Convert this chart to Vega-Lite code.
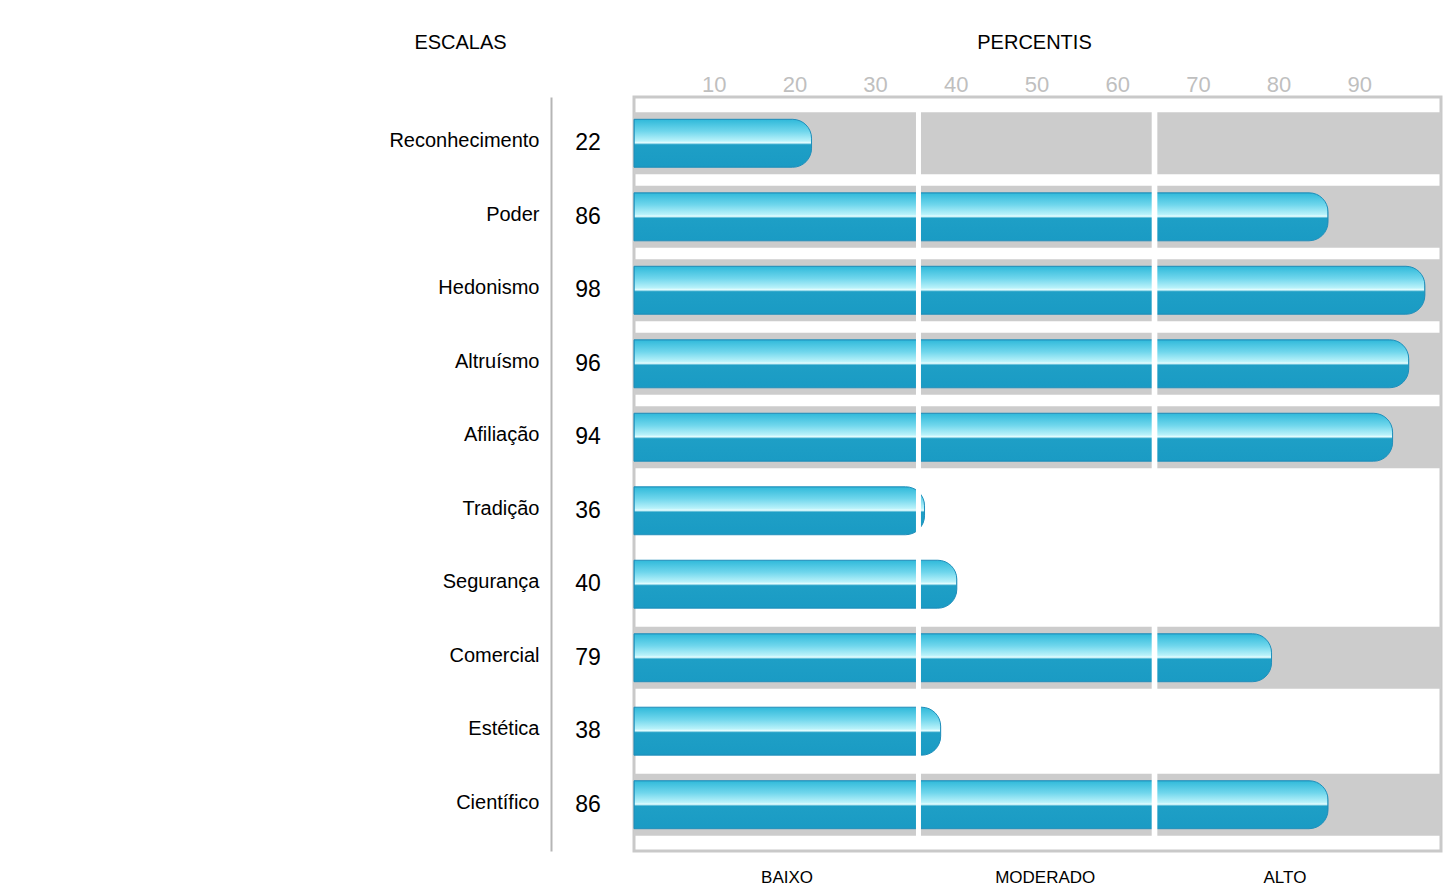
{
  "$schema": "https://vega.github.io/schema/vega-lite/v6.json",
  "width": 807,
  "height": 754,
  "autosize": {"type": "none"},
  "padding": {"left": 634, "top": 97, "right": 6, "bottom": 45},
  "background": "white",
  "config": {
    "view": {"stroke": "#c9c9c9", "strokeWidth": 3},
    "font": "Liberation Sans",
    "axis": {"grid": false}
  },
  "data": {
    "values": [
      {"escala": "Reconhecimento", "percentil": 22},
      {"escala": "Poder", "percentil": 86},
      {"escala": "Hedonismo", "percentil": 98},
      {"escala": "Altruísmo", "percentil": 96},
      {"escala": "Afiliação", "percentil": 94},
      {"escala": "Tradição", "percentil": 36},
      {"escala": "Segurança", "percentil": 40},
      {"escala": "Comercial", "percentil": 79},
      {"escala": "Estética", "percentil": 38},
      {"escala": "Científico", "percentil": 86}
    ]
  },
  "layer": [
    {
      "encoding": {
        "y": {
          "field": "escala",
          "type": "nominal",
          "sort": ["Reconhecimento", "Poder", "Hedonismo", "Altruísmo", "Afiliação", "Tradição", "Segurança", "Comercial", "Estética", "Científico"],
          "scale": {"paddingInner": 0, "paddingOuter": 0.13},
          "axis": {
            "orient": "left",
            "offset": 83,
            "domain": true,
            "domainColor": "#b5b5b5",
            "domainWidth": 2,
            "ticks": false,
            "tickSize": 0,
            "labelPadding": 12,
            "labelOffset": -2,
            "labelFontSize": 20,
            "labelColor": "#000000",
            "labelFont": "Liberation Sans",
            "title": "ESCALAS",
            "titleAngle": 0,
            "titleX": -91,
            "titleY": -55,
            "titleAlign": "center",
            "titleBaseline": "middle",
            "titleFontSize": 20,
            "titleFontWeight": "normal",
            "titleColor": "#000000",
            "titleFont": "Liberation Sans"
          }
        }
      },
      "layer": [
        {
          "transform": [{"filter": "datum.percentil <= 35 || datum.percentil >= 65"}],
          "mark": {"type": "bar", "color": "#cccccc", "height": {"band": 0.844}},
          "encoding": {
            "x": {
              "datum": 0,
              "type": "quantitative",
              "scale": {"domain": [0, 100], "nice": false},
              "axis": {
                "orient": "top",
                "values": [10, 20, 30, 40, 50, 60, 70, 80, 90],
                "domain": false,
                "ticks": false,
                "tickSize": 0,
                "labelFontSize": 22,
                "labelColor": "#bfbfbf",
                "labelBaseline": "middle",
                "labelPadding": 13,
                "labelOffset": -1,
                "labelFont": "Liberation Sans",
                "title": "PERCENTIS",
                "titleFontSize": 20,
                "titleFontWeight": "normal",
                "titleColor": "#000000",
                "titleFont": "Liberation Sans",
                "titleX": 400,
                "titleY": -55,
                "titleAlign": "center",
                "titleBaseline": "middle"
              }
            },
            "x2": {"datum": 100}
          }
        },
        {
          "mark": {
            "type": "bar",
            "height": {"band": 0.653},
            "cornerRadiusEnd": 19,
            "stroke": "#1f8fbb",
            "strokeWidth": 1,
            "color": {
              "gradient": "linear",
              "x1": 0, "y1": 0, "x2": 0, "y2": 1,
              "stops": [
                {"offset": 0, "color": "#2fb9da"},
                {"offset": 0.25, "color": "#6fd6ec"},
                {"offset": 0.45, "color": "#b9f2fa"},
                {"offset": 0.49, "color": "#e6feff"},
                {"offset": 0.53, "color": "#1e9fc6"},
                {"offset": 1, "color": "#1a9bc4"}
              ]
            }
          },
          "encoding": {
            "x": {"field": "percentil", "type": "quantitative"}
          }
        },
        {
          "mark": {"type": "bar", "color": "#ffffff", "height": {"band": 1}},
          "encoding": {"x": {"datum": 34.94}, "x2": {"datum": 35.56}}
        },
        {
          "mark": {"type": "bar", "color": "#ffffff", "height": {"band": 1}},
          "encoding": {"x": {"datum": 64.15}, "x2": {"datum": 64.85}}
        },
        {
          "mark": {"type": "text", "fontSize": 23, "align": "center", "baseline": "middle", "color": "#000000", "font": "Liberation Sans"},
          "encoding": {
            "x": {"datum": -5.7},
            "text": {"field": "percentil", "type": "quantitative"}
          }
        }
      ]
    },
    {
      "mark": {"type": "rule", "opacity": 0},
      "encoding": {
        "x": {
          "field": "percentil",
          "type": "quantitative",
          "scale": {"domain": [0, 100], "nice": false},
          "axis": {
            "orient": "bottom",
            "values": [18.9, 50.9, 80.6],
            "labelExpr": "datum.value < 35 ? 'BAIXO' : (datum.value < 65 ? 'MODERADO' : 'ALTO')",
            "domain": false,
            "ticks": false,
            "tickSize": 0,
            "labelFontSize": 17,
            "labelColor": "#000000",
            "labelFont": "Liberation Sans",
            "labelBaseline": "middle",
            "labelPadding": 26,
            "title": null
          }
        }
      }
    }
  ],
  "resolve": {"axis": {"x": "independent"}}
}
